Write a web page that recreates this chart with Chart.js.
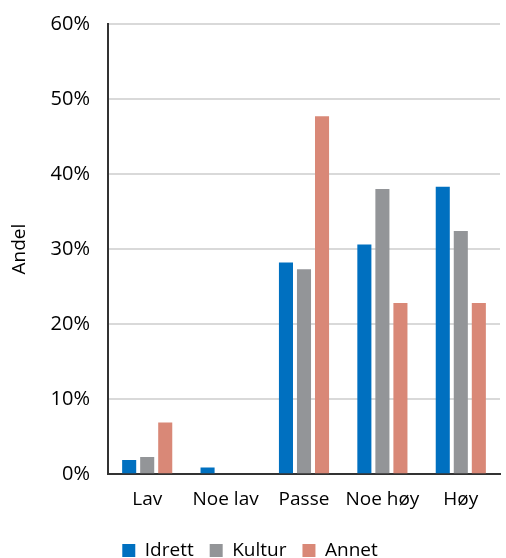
<!DOCTYPE html>
<html>
<head>
<meta charset="utf-8">
<script src="https://cdn.jsdelivr.net/npm/chart.js@4/dist/chart.umd.min.js"></script>
<style>
  html, body { margin: 0; padding: 0; background: #fff; }
  #wrap { width: 506px; height: 558px; }
</style>
</head>
<body>
<div id="wrap"><canvas id="c"></canvas></div>
<script>
// -------------------- DATA -------------------
let Categories = ['Lav', 'Noe lav', 'Passe', 'Noe høy', 'Høy'];
let Idrett = [1.9, 0.9, 28.2, 30.6, 38.3];
let Kultur = [2.3, 0, 27.3, 38.0, 32.4];
let Annet  = [6.9, 0, 47.7, 22.8, 22.8];

let FontName = "'Open Sans', sans-serif";

// -------------------- CHART -------------------
let ctx = document.getElementById('c');
new Chart(ctx, {
  type: 'bar',
  data: {
    labels: Categories,
    datasets: [
      { label: 'Idrett', data: Idrett, backgroundColor: '#0070C0' },
      { label: 'Kultur', data: Kultur, backgroundColor: '#939598' },
      { label: 'Annet',  data: Annet,  backgroundColor: '#D98877' }
    ]
  },
  options: {
    responsive: true,
    maintainAspectRatio: false,
    animation: false,
    categoryPercentage: 0.69,
    barPercentage: 0.78,
    layout: { padding: { top: 0, right: 6, left: 0, bottom: -12 } },
    plugins: {
      legend: {
        position: 'bottom',
        labels: {
          font: { family: FontName, size: 19 },
          color: '#000',
          boxWidth: 13,
          boxHeight: 13,
          padding: 16
        }
      },
      tooltip: { enabled: false }
    },
    scales: {
      x: {
        grid: { display: false, drawTicks: false },
        border: { color: '#333', width: 2 },
        ticks: {
          font: { family: FontName, size: 19 },
          color: '#000',
          padding: 14,
          maxRotation: 0,
          autoSkip: false
        }
      },
      y: {
        min: 0,
        max: 60,
        afterFit: function(scale) {
          // keep the plot edges where the picture has them
          scale.width = 108;
          scale.paddingTop = 24;
          scale.paddingBottom = 0;
        },
        grid: { color: '#d9d9d9', lineWidth: 2, drawTicks: false },
        border: { color: '#333', width: 2 },
        ticks: {
          stepSize: 10,
          padding: 18,
          font: { family: FontName, size: 20 },
          color: '#000',
          callback: v => v + '%'
        },
        title: {
          display: true,
          text: 'Andel',
          font: { family: FontName, size: 19 },
          color: '#000',
          padding: { top: 8, bottom: 0 }
        }
      }
    }
  }
});
</script>
</body>
</html>
